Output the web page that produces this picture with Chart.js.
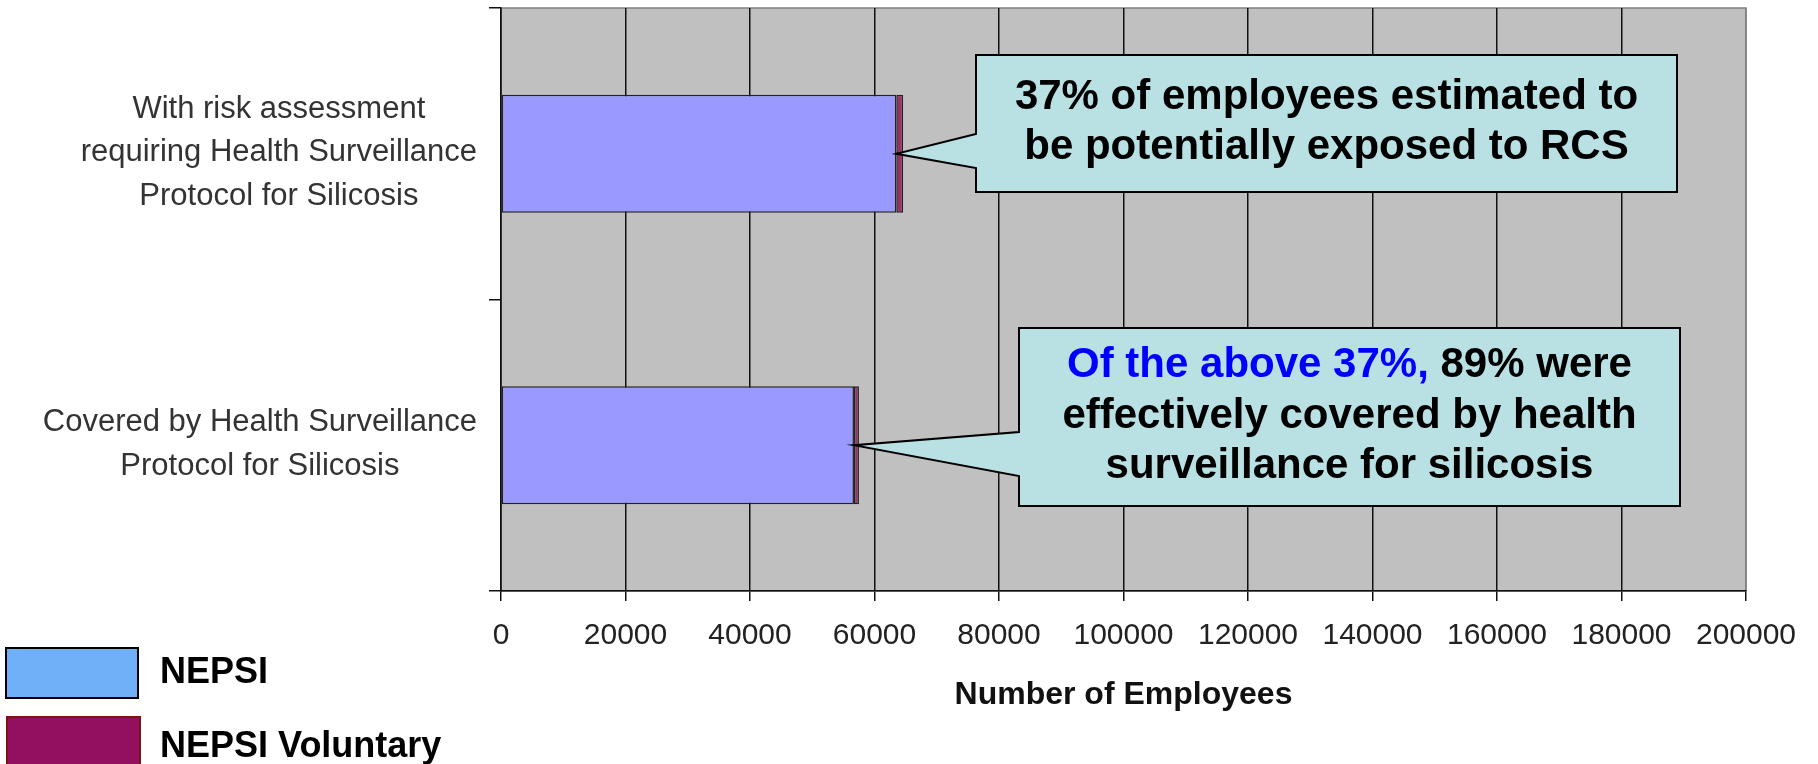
<!DOCTYPE html>
<html>
<head>
<meta charset="utf-8">
<title>NEPSI - Health Surveillance for Silicosis</title>
<script src="https://cdn.jsdelivr.net/npm/chart.js@4.4.0/dist/chart.umd.min.js"></script>
<style>
    html, body { margin: 0; padding: 0; background: #fff; }
    #chart { display: block; }
</style>
</head>
<body>
<canvas id="chart" width="1818" height="764"></canvas>
<script>
// values
const categories = [
    ['With risk assessment', 'requiring Health Surveillance', 'Protocol for Silicosis'],
    ['Covered by Health Surveillance', 'Protocol for Silicosis']
];
const seriesNames = ['NEPSI', 'NEPSI Voluntary'];
const nepsiValues = [63500, 56700];
const voluntaryValues = [1100, 800];
const xMax = 200000;
const xStep = 20000;
const xTitle = 'Number of Employees';
const callouts = [
    ['37% of employees estimated to', 'be potentially exposed to RCS'],
    ['Of the above 37%, 89% were', 'effectively covered by health', 'surveillance for silicosis']
];
const calloutHighlights = ['', 'Of the above 37%,'];

const FONT = "'Liberation Sans', Arial, sans-serif";

// callout boxes (pixels) - the pointer tip comes from the scales
const boxes = [
    { left: 976, top: 55, right: 1677, bottom: 192, baseA: 134, baseB: 168 },
    { left: 1019, top: 328, right: 1680, bottom: 506, baseA: 432, baseB: 476 }
];
const legendBoxes = [
    { x: 6, y: 648, w: 132, h: 50, fill: '#6fb0f8', stroke: '#000', textY: 673 },
    { x: 7, y: 717, w: 133, h: 54, fill: '#930f60', stroke: '#7a1414', textY: 747 }
];

const decorations = {
    id: 'decorations',
    beforeDraw(chart) {
        const { ctx, chartArea: a } = chart;
        ctx.save();
        ctx.fillStyle = '#c0c0c0';
        ctx.fillRect(a.left, a.top, a.right - a.left, a.bottom - a.top);
        ctx.strokeStyle = '#808080';
        ctx.lineWidth = 1.5;
        ctx.strokeRect(a.left, a.top, a.right - a.left, a.bottom - a.top);
        ctx.restore();
    },
    afterDraw(chart) {
        const ctx = chart.ctx;
        const xs = chart.scales.x;
        const ys = chart.scales.y;
        ctx.save();

        // category labels, each block centred on its own widest line
        ctx.font = '31px ' + FONT;
        ctx.fillStyle = '#333';
        ctx.textAlign = 'center';
        ctx.textBaseline = 'middle';
        categories.forEach((lines, i) => {
            const widest = Math.max(...lines.map(l => ctx.measureText(l).width));
            const cx = ys.right - 24 - widest / 2;
            const cy = ys.getPixelForValue(i) - 1;
            lines.forEach((l, j) => {
                ctx.fillText(l, cx, cy + (j - (lines.length - 1) / 2) * 43.5);
            });
        });

        // callouts
        boxes.forEach((b, i) => {
            const tipX = xs.getPixelForValue(nepsiValues[i]);
            const tipY = ys.getPixelForValue(i);
            ctx.beginPath();
            ctx.moveTo(b.left, b.top);
            ctx.lineTo(b.right, b.top);
            ctx.lineTo(b.right, b.bottom);
            ctx.lineTo(b.left, b.bottom);
            ctx.lineTo(b.left, b.baseB);
            ctx.lineTo(tipX, tipY);
            ctx.lineTo(b.left, b.baseA);
            ctx.closePath();
            ctx.fillStyle = '#b9e0e3';
            ctx.fill();
            ctx.strokeStyle = '#000';
            ctx.lineWidth = 2;
            ctx.lineJoin = 'miter';
            ctx.stroke();

            ctx.font = 'bold 42px ' + FONT;
            ctx.textAlign = 'left';
            const lines = callouts[i];
            const cx = (b.left + b.right) / 2;
            const cy = (b.top + b.bottom) / 2 - 1;
            lines.forEach((line, j) => {
                const ly = cy + (j - (lines.length - 1) / 2) * 50.5;
                const total = ctx.measureText(line).width;
                let x = cx - total / 2;
                const hl = calloutHighlights[i];
                if (hl && line.startsWith(hl)) {
                    ctx.fillStyle = '#0000ff';
                    ctx.fillText(hl, x, ly);
                    x += ctx.measureText(hl).width;
                    line = line.slice(hl.length);
                }
                ctx.fillStyle = '#000';
                ctx.fillText(line, x, ly);
            });
        });

        // legend
        ctx.font = 'bold 36px ' + FONT;
        ctx.textAlign = 'left';
        legendBoxes.forEach((lb, i) => {
            ctx.fillStyle = lb.fill;
            ctx.fillRect(lb.x, lb.y, lb.w, lb.h);
            ctx.strokeStyle = lb.stroke;
            ctx.lineWidth = 2;
            ctx.strokeRect(lb.x, lb.y, lb.w, lb.h);
            ctx.fillStyle = '#000';
            ctx.fillText(seriesNames[i], 160, lb.textY);
        });

        ctx.restore();
    }
};

new Chart(document.getElementById('chart'), {
    type: 'bar',
    data: {
        labels: categories,
        datasets: [{
            label: seriesNames[0],
            data: nepsiValues,
            backgroundColor: '#9999ff',
            borderColor: '#222',
            borderWidth: 1.5,
            borderSkipped: false,
            barPercentage: 0.405,
            categoryPercentage: 1
        }, {
            label: seriesNames[1],
            data: voluntaryValues,
            backgroundColor: '#993366',
            borderColor: '#222',
            borderWidth: 1.5,
            borderSkipped: false,
            barPercentage: 0.405,
            categoryPercentage: 1
        }]
    },
    options: {
        indexAxis: 'y',
        responsive: false,
        animation: false,
        devicePixelRatio: 1,
        layout: { padding: { top: 8, right: 72, left: 0, bottom: 0 } },
        plugins: {
            legend: { display: false },
            tooltip: { enabled: false }
        },
        scales: {
            x: {
                stacked: true,
                min: 0,
                max: xMax,
                ticks: {
                    stepSize: xStep,
                    autoSkip: false,
                    maxRotation: 0,
                    padding: 17,
                    color: '#222',
                    font: { family: FONT, size: 30 },
                    callback: v => String(v)
                },
                grid: {
                    color: c => (c.tick && c.tick.value === xMax) ? '#808080' : '#111',
                    tickColor: '#111',
                    lineWidth: 1.5,
                    tickLength: 10
                },
                border: { color: '#111', width: 1.5 },
                title: {
                    display: true,
                    text: xTitle,
                    color: '#111',
                    font: { family: FONT, size: 32, weight: 'bold' },
                    padding: { top: 0, bottom: 50 }
                },
                afterFit: s => { s.height = 173; }
            },
            y: {
                stacked: true,
                ticks: { display: false },
                grid: {
                    drawOnChartArea: false,
                    offset: true,
                    tickLength: 12,
                    color: '#111',
                    lineWidth: 1.5
                },
                border: { color: '#111', width: 1.5 },
                afterFit: s => { s.width = 501; }
            }
        }
    },
    plugins: [decorations]
});
</script>
</body>
</html>
